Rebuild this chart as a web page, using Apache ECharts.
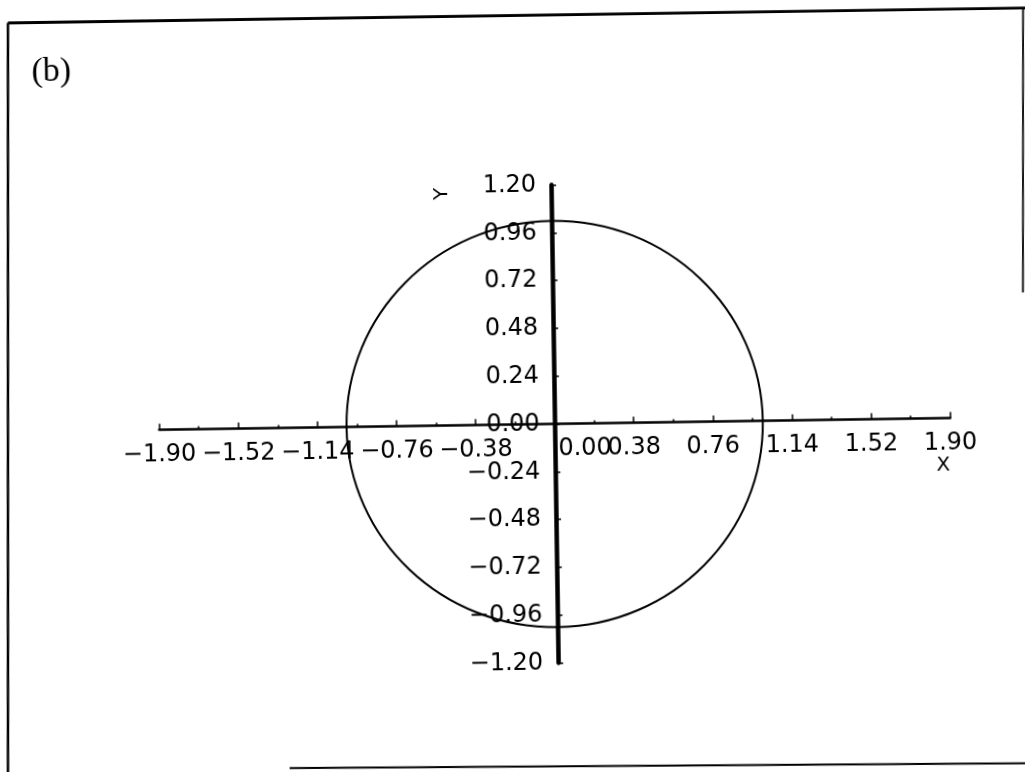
<!DOCTYPE html>
<html>
<head>
<meta charset="utf-8">
<script src="https://cdn.jsdelivr.net/npm/echarts@6/dist/echarts.min.js"></script>
<style>
  html, body { margin: 0; padding: 0; background: #fff; overflow: hidden; width: 1025px; height: 772px; }
  #chart {
    width: 1045px; height: 790px; background: #fff;
    transform: rotate(-0.85deg); transform-origin: 512.5px 386px;
  }
</style>
</head>
<body>
<div id="chart"></div>
<script>
// Axis ranges and tick spacing
const xRange = [-1.90, 1.90];
const xStep = 0.38;
const yRange = [-1.20, 1.20];
const yStep = 0.24;

// Ellipse drawn in data units: centre x, centre y, radius along x, radius along y
const curve = [[0.00, 0.00, 1.00, 1.02]];

const FONT = 'DejaVu Sans';
const GRID = { left: 158.6, top: 185.6, width: 791, height: 478 };

// shift each axis from the grid edge onto the other axis' zero
const yAxisShift = -GRID.width * (0 - xRange[0]) / (xRange[1] - xRange[0]);
const xAxisShift = -GRID.height * (0 - yRange[0]) / (yRange[1] - yRange[0]);

function fmt(v) {
  const t = Math.abs(v) < 1e-9 ? 0 : v;
  return t.toFixed(2).replace('-', '\u2212');
}

const chart = echarts.init(document.getElementById('chart'));

chart.setOption({
  backgroundColor: '#fff',
  animation: false,
  grid: Object.assign({ containLabel: false }, GRID),
  xAxis: {
    type: 'value',
    position: 'bottom',
    offset: xAxisShift,
    min: xRange[0], max: xRange[1], interval: xStep,
    axisLine: { show: true, onZero: false, lineStyle: { color: '#000', width: 2.5 } },
    axisTick: { show: true, inside: true, length: 6, lineStyle: { color: '#000', width: 1.5 } },
    minorTick: { show: true, splitNumber: 2, length: 3, lineStyle: { color: '#000', width: 1.5 } },
    splitLine: { show: false },
    axisLabel: {
      show: true, margin: 13, color: '#000', fontFamily: FONT, fontSize: 24,
      showMinLabel: true, showMaxLabel: true,
      formatter: function (v) {
        return Math.abs(v) < 1e-9 ? '{z|' + fmt(v) + '}' : fmt(v);
      },
      rich: {
        z: { padding: [0, 0, 0, 60], color: '#000', fontFamily: FONT, fontSize: 24 }
      }
    }
  },
  yAxis: {
    type: 'value',
    position: 'left',
    offset: yAxisShift,
    min: yRange[0], max: yRange[1], interval: yStep,
    axisLine: { show: true, onZero: false, lineStyle: { color: '#000', width: 4.5 } },
    axisTick: { show: true, inside: true, length: 5, lineStyle: { color: '#000', width: 1.5 } },
    splitLine: { show: false },
    axisLabel: {
      show: true, margin: 15, color: '#000', fontFamily: FONT, fontSize: 24,
      showMinLabel: true, showMaxLabel: true,
      formatter: fmt
    }
  },
  series: [{
    type: 'custom',
    coordinateSystem: 'cartesian2d',
    data: curve,
    encode: { x: 0, y: 1 },
    silent: true,
    clip: false,
    z: 5,
    renderItem: function (params, api) {
      const c = api.coord([api.value(0), api.value(1)]);
      const s = api.size([api.value(2), api.value(3)]);
      return {
        type: 'ellipse',
        shape: { cx: c[0], cy: c[1], rx: s[0], ry: s[1] },
        style: { fill: 'none', stroke: '#000', lineWidth: 2 }
      };
    }
  }],
  graphic: [
    // page frame
    { type: 'line', silent: true, shape: { x1: 13.4, y1: 15.5, x2: 1040, y2: 15.6 },
      style: { stroke: '#000', lineWidth: 2.8 } },
    { type: 'line', silent: true, shape: { x1: 13.4, y1: 15.5, x2: 2, y2: 785 },
      style: { stroke: '#000', lineWidth: 2.5 } },
    { type: 'line', silent: true, shape: { x1: 1028.6, y1: 15.6, x2: 1024.3, y2: 300 },
      style: { stroke: '#000', lineWidth: 1.8 } },
    { type: 'line', silent: true, shape: { x1: 284, y1: 764.7, x2: 1040, y2: 771 },
      style: { stroke: '#000', lineWidth: 2 } },
    // panel tag
    { type: 'text', silent: true, x: 56, y: 65,
      style: { text: '(b)', fill: '#000', font: '34px "Liberation Serif"', align: 'center', verticalAlign: 'middle' } },
    // axis names
    { type: 'text', silent: true, x: 445, y: 193, rotation: Math.PI / 2,
      style: { text: 'Y', fill: '#000', font: '20px "DejaVu Sans"', align: 'center', verticalAlign: 'middle' } },
    { type: 'text', silent: true, x: 942, y: 472,
      style: { text: 'X', fill: '#000', font: '20px "DejaVu Sans"', align: 'center', verticalAlign: 'middle' } }
  ]
});
</script>
</body>
</html>
